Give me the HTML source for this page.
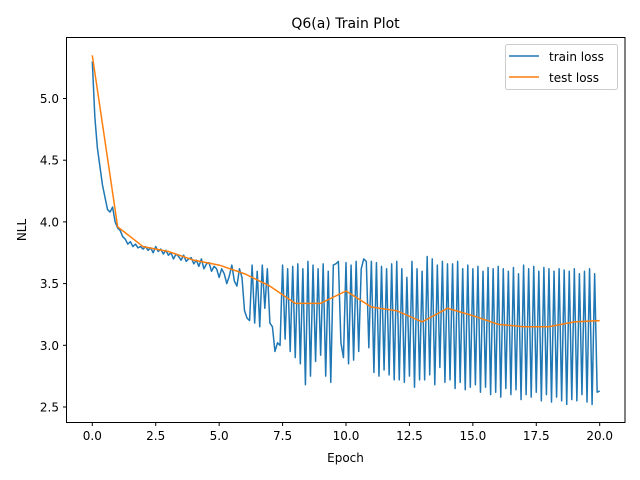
<!DOCTYPE html>
<html><head><meta charset="utf-8"><style>
html,body{margin:0;padding:0;background:#fff;}
svg{display:block;font-family:"DejaVu Sans","Liberation Sans",sans-serif;}
</style></head><body>
<svg id="chart" width="640" height="480" viewBox="0 0 640 480" xmlns="http://www.w3.org/2000/svg">
<rect x="0" y="0" width="640" height="480" fill="#fff"/>
<text x="345.5" y="28" text-anchor="middle" font-size="14" fill="#000">Q6(a) Train Plot</text>
<g id="xticks"></g>
<g id="yticks"></g>
<g id="series"></g>
<rect x="66.5" y="37.5" width="558.5" height="385" fill="none" stroke="#000" stroke-width="1"/>
<text x="345.5" y="462" text-anchor="middle" font-size="12">Epoch</text>
<text transform="translate(26,230) rotate(-90)" text-anchor="middle" font-size="12">NLL</text>
<g>
<rect x="505.5" y="44.5" width="112" height="45" rx="2" fill="#fff" fill-opacity="0.8" stroke="#ccc"/>
<line x1="509" y1="56" x2="539" y2="56" stroke="#1f77b4" stroke-width="1.5"/>
<text x="549" y="61" font-size="12">train loss</text>
<line x1="509" y1="77" x2="539" y2="77" stroke="#ff7f0e" stroke-width="1.5"/>
<text x="549" y="82" font-size="12">test loss</text>
</g>
</svg>
<script>
const xTickValues = [0, 2.5, 5, 7.5, 10, 12.5, 15, 17.5, 20];
const xTickLabels = ["0.0","2.5","5.0","7.5","10.0","12.5","15.0","17.5","20.0"];
const yTickValues = [2.5, 3.0, 3.5, 4.0, 4.5, 5.0];
const yTickLabels = ["2.5","3.0","3.5","4.0","4.5","5.0"];
const testEpochs = [0,1,2,3,4,5,6,7,8,9,10,11,12,13,14,15,16,17,18,19,20];
const testLoss = [5.35,3.96,3.80,3.76,3.69,3.65,3.58,3.48,3.34,3.34,3.44,3.31,3.28,3.19,3.30,3.24,3.17,3.15,3.15,3.19,3.20];
const trainLoss = [
5.30,4.85,4.6,4.45,4.3,4.2,4.1,4.08,4.12,4.0,
3.95,3.93,3.88,3.86,3.82,3.84,3.80,3.82,3.79,3.80,
3.78,3.80,3.77,3.79,3.75,3.80,3.76,3.78,3.74,3.77,
3.73,3.75,3.70,3.74,3.72,3.69,3.73,3.68,3.70,3.71,
3.66,3.69,3.64,3.70,3.62,3.66,3.67,3.60,3.64,3.62,
3.55,3.62,3.58,3.50,3.56,3.65,3.52,3.48,3.62,3.55,
3.28,3.22,3.20,3.65,3.18,3.60,3.15,3.65,3.30,3.62,
3.18,3.15,2.95,3.02,3.00,3.65,3.05,3.62,2.95,3.64,
2.90,3.66,2.85,3.62,2.68,3.68,2.75,3.65,2.87,3.62,
2.92,3.66,2.75,3.60,2.70,3.65,3.66,3.68,3.02,2.90,
3.67,2.85,3.65,2.88,3.68,2.95,3.62,3.70,3.68,2.98,
3.68,2.78,3.67,2.75,3.64,2.80,3.62,2.76,3.66,2.72,
3.68,2.72,3.62,2.70,3.55,2.75,3.68,2.66,3.62,2.72,
3.60,2.72,3.72,2.76,3.70,2.68,3.65,2.82,3.68,2.70,
3.66,2.72,3.66,2.65,3.68,2.70,3.62,2.64,3.65,2.66,
3.62,2.68,3.64,2.62,3.60,2.66,3.63,2.60,3.62,2.62,
3.64,2.58,3.62,2.65,3.60,2.60,3.63,2.64,3.58,2.56,
3.65,2.60,3.62,2.58,3.64,2.62,3.60,2.55,3.63,2.60,
3.62,2.54,3.60,2.58,3.62,2.55,3.61,2.52,3.60,2.56,
3.62,2.55,3.58,2.60,3.60,2.54,3.62,2.52,3.58,2.62,2.63];
const trainEpochMax = 20;

const NS = "http://www.w3.org/2000/svg";
function xScale(v){ return 92.3 + v * 25.37; }
function yScale(v){ return 407 - (v - 2.5) * 123.4; }
function mk(tag, attrs){ const e = document.createElementNS(NS, tag); for (const k in attrs) e.setAttribute(k, attrs[k]); return e; }

const xg = document.getElementById('xticks');
xTickValues.forEach((v, i) => {
  const x = xScale(v);
  const t = mk('line', {x1:x, y1:422.5, x2:x, y2:426, stroke:'#000'});
  
  
  xg.appendChild(t);
  const l = mk('text', {x:x, y:440, 'text-anchor':'middle', 'font-size':12});
  
  
  l.textContent = xTickLabels[i];
  xg.appendChild(l);
});
const yg = document.getElementById('yticks');
yTickValues.forEach((v, i) => {
  const y = yScale(v);
  const t = mk('line', {x1:63, y1:y, x2:66.5, y2:y, stroke:'#000'});
  
  
  yg.appendChild(t);
  const l = mk('text', {x:59, y:y + 4.5, 'text-anchor':'end', 'font-size':12});
  
  
  l.textContent = yTickLabels[i];
  yg.appendChild(l);
});

const sg = document.getElementById('series');
const n = trainLoss.length;
const trainPts = trainLoss.map((v, i) => xScale(i * trainEpochMax / (n - 1)).toFixed(2) + ',' + yScale(v).toFixed(2)).join(' ');
const tl = mk('polyline', {points:trainPts, fill:'none', stroke:'#1f77b4', 'stroke-width':1.5, 'stroke-linejoin':'round'});


sg.appendChild(tl);
const testPts = testLoss.map((v, i) => xScale(testEpochs[i]).toFixed(2) + ',' + yScale(v).toFixed(2)).join(' ');
const te = mk('polyline', {points:testPts, fill:'none', stroke:'#ff7f0e', 'stroke-width':1.5, 'stroke-linejoin':'round'});


sg.appendChild(te);
</script>
</body></html>
